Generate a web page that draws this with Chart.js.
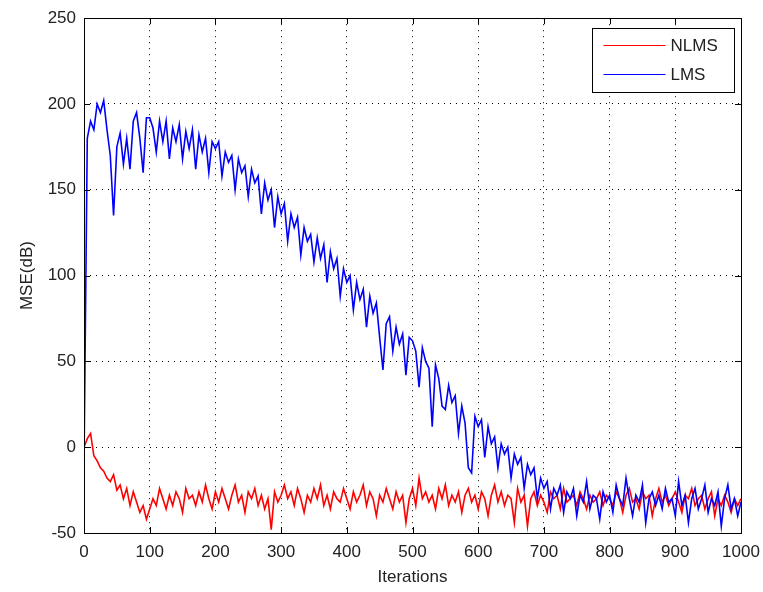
<!DOCTYPE html>
<html>
<head>
<meta charset="utf-8">
<script src="https://cdn.jsdelivr.net/npm/chart.js@4.4.1/dist/chart.umd.min.js"></script>
<style>
    body { margin: 0; background: #fff; }
    #wrap { width: 763px; height: 592px; }
</style>
</head>
<body>
<div id="wrap"><canvas id="mseChart"></canvas></div>
<script>
// iterations (every 5th sample)
const iterations = [
    0, 5, 10, 15, 20, 25, 30, 35, 40, 45,
    50, 55, 60, 65, 70, 75, 80, 85, 90, 95,
    100, 105, 110, 115, 120, 125, 130, 135, 140, 145,
    150, 155, 160, 165, 170, 175, 180, 185, 190, 195,
    200, 205, 210, 215, 220, 225, 230, 235, 240, 245,
    250, 255, 260, 265, 270, 275, 280, 285, 290, 295,
    300, 305, 310, 315, 320, 325, 330, 335, 340, 345,
    350, 355, 360, 365, 370, 375, 380, 385, 390, 395,
    400, 405, 410, 415, 420, 425, 430, 435, 440, 445,
    450, 455, 460, 465, 470, 475, 480, 485, 490, 495,
    500, 505, 510, 515, 520, 525, 530, 535, 540, 545,
    550, 555, 560, 565, 570, 575, 580, 585, 590, 595,
    600, 605, 610, 615, 620, 625, 630, 635, 640, 645,
    650, 655, 660, 665, 670, 675, 680, 685, 690, 695,
    700, 705, 710, 715, 720, 725, 730, 735, 740, 745,
    750, 755, 760, 765, 770, 775, 780, 785, 790, 795,
    800, 805, 810, 815, 820, 825, 830, 835, 840, 845,
    850, 855, 860, 865, 870, 875, 880, 885, 890, 895,
    900, 905, 910, 915, 920, 925, 930, 935, 940, 945,
    950, 955, 960, 965, 970, 975, 980, 985, 990, 995,
    1000
];

// MSE in dB, NLMS
const nlmsMse = [
    0, 5, 8, -5, -8, -12, -14, -18, -20, -16,
    -25, -22, -30, -24, -34, -26, -32, -38, -34, -42,
    -36, -30, -34, -24, -30, -36, -28, -34, -26, -30,
    -38, -24, -30, -28, -34, -26, -32, -22, -30, -36,
    -26, -32, -24, -30, -36, -28, -22, -32, -28, -38,
    -26, -30, -24, -34, -28, -36, -30, -48, -26, -32,
    -28, -22, -30, -26, -34, -24, -30, -38, -28, -32,
    -24, -30, -22, -34, -28, -36, -26, -30, -32, -24,
    -30, -36, -26, -32, -28, -22, -34, -26, -30, -40,
    -28, -32, -24, -30, -36, -26, -32, -28, -44, -30,
    -24, -34, -18, -30, -26, -32, -28, -36, -24, -30,
    -22, -34, -28, -32, -26, -38, -28, -24, -32, -28,
    -36, -26, -30, -40, -28, -22, -32, -26, -34, -28,
    -30, -44, -24, -32, -28, -46, -30, -26, -34, -28,
    -32, -38, -26, -30, -28, -36, -24, -32, -30, -28,
    -34, -26, -30, -36, -28, -32, -30, -26, -34, -28,
    -30, -34, -26, -30, -38, -28, -24, -32, -30, -36,
    -26, -30, -28, -40, -30, -24, -32, -28, -34, -30,
    -26, -32, -38, -28, -30, -24, -34, -30, -28, -36,
    -30, -26, -40, -30, -34, -28, -32, -38, -30, -34,
    -30
];

// MSE in dB, LMS
const lmsMse = [
    -10, 180, 190, 185, 200, 195, 202, 185, 170, 135,
    175, 183, 165, 180, 162, 190, 195, 180, 160, 192,
    192, 186, 172, 190, 178, 190, 168, 186, 178, 188,
    168, 184, 174, 185, 162, 182, 172, 180, 160, 178,
    174, 178, 158, 172, 166, 170, 150, 168, 160, 164,
    146, 162, 154, 158, 136, 154, 144, 150, 128, 146,
    136, 142, 120, 136, 128, 134, 112, 128, 120, 124,
    108, 122, 110, 118, 96, 114, 104, 110, 88, 104,
    96, 100, 80, 96, 86, 92, 70, 88, 78, 84,
    64, 45, 72, 76, 56, 70, 60, 66, 42, 64,
    62, 56, 35, 58, 50, 46, 12, 48, 40, 24,
    22, 36, 26, 30, 8, 24, 14, -12, -15, 18,
    12, 16, -6, 12, 2, 6, -12, 2, -4, 0,
    -18, -4, -10, -6, -24, -10, -16, -12, -30, -18,
    -24, -20, -36, -24, -28, -22, -38, -26, -30, -24,
    -40, -28, -32, -20, -36, -28, -30, -42, -26, -32,
    -28, -38, -22, -30, -34, -18, -30, -40, -28, -32,
    -22, -44, -30, -26, -34, -28, -36, -24, -32, -30,
    -40, -20, -34, -28, -44, -30, -24, -36, -30, -22,
    -38, -30, -34, -26, -46, -30, -22, -36, -30, -40,
    -32
];

const xTicks = [0, 100, 200, 300, 400, 500, 600, 700, 800, 900, 1000];
const yTicks = [-50, 0, 50, 100, 150, 200, 250];

const seriesNames = ['NLMS', 'LMS'];
const seriesColors = ['#ff0000', '#0000ff'];

const fontFamily = "'Liberation Sans', Arial, Helvetica, sans-serif";
const textColor = '#222222';

function toPoints(ys) {
    return ys.map((y, i) => ({ x: iterations[i], y: y }));
}

// matlab style box, inward ticks and legend
const matlabFrame = {
    id: 'matlabFrame',
    afterDatasetsDraw(chart) {
        const ctx = chart.ctx;
        const area = chart.chartArea;
        const xs = chart.scales.x;
        const ys = chart.scales.y;
        const len = 6;
        ctx.save();
        ctx.strokeStyle = '#000';
        ctx.lineWidth = 1;
        ctx.beginPath();
        xs.ticks.forEach(t => {
            const px = Math.round(xs.getPixelForValue(t.value)) + 0.5;
            ctx.moveTo(px, area.bottom);
            ctx.lineTo(px, area.bottom - len);
            ctx.moveTo(px, area.top);
            ctx.lineTo(px, area.top + len);
        });
        ys.ticks.forEach(t => {
            const py = Math.round(ys.getPixelForValue(t.value)) + 0.5;
            ctx.moveTo(area.left, py);
            ctx.lineTo(area.left + len, py);
            ctx.moveTo(area.right, py);
            ctx.lineTo(area.right - len, py);
        });
        ctx.stroke();
        ctx.strokeRect(Math.round(area.left) + 0.5, Math.round(area.top) + 0.5,
            Math.round(area.right - area.left), Math.round(area.bottom - area.top));
        ctx.restore();
    },
    afterDraw(chart) {
        const ctx = chart.ctx;
        const area = chart.chartArea;
        const w = 142, h = 64;
        const left = Math.round(area.right - 7 - w) + 0.5;
        const top = Math.round(area.top + 10) + 0.5;
        ctx.save();
        ctx.fillStyle = '#fff';
        ctx.fillRect(left, top, w, h);
        ctx.strokeStyle = '#000';
        ctx.lineWidth = 1;
        ctx.strokeRect(left, top, w, h);
        ctx.font = '17px ' + fontFamily;
        ctx.textBaseline = 'middle';
        ctx.fillStyle = textColor;
        chart.data.datasets.forEach((ds, i) => {
            const y = Math.round(top + 16 + i * 29) + 0.5;
            ctx.strokeStyle = ds.borderColor;
            ctx.beginPath();
            ctx.moveTo(left + 11, y);
            ctx.lineTo(left + 73, y);
            ctx.stroke();
            ctx.fillText(ds.label, left + 78, y + 1);
        });
        ctx.restore();
    }
};

const ctx = document.getElementById('mseChart').getContext('2d');
const mseChart = new Chart(ctx, {
    type: 'line',
    data: {
        datasets: [{
            label: seriesNames[0],
            data: toPoints(nlmsMse),
            borderColor: seriesColors[0],
            borderWidth: 1.6,
            pointRadius: 0,
            tension: 0,
            order: 1
        }, {
            label: seriesNames[1],
            data: toPoints(lmsMse),
            borderColor: seriesColors[1],
            borderWidth: 1.6,
            pointRadius: 0,
            tension: 0,
            order: 0
        }]
    },
    options: {
        responsive: true,
        maintainAspectRatio: false,
        animation: false,
        layout: { padding: { top: 17, right: 22, bottom: 0, left: 0 } },
        plugins: {
            legend: { display: false },
            tooltip: { enabled: false }
        },
        scales: {
            x: {
                type: 'linear',
                min: 0,
                max: 1000,
                afterBuildTicks: axis => { axis.ticks = xTicks.map(v => ({ value: v })); },
                afterFit: axis => { axis.height = 59; axis.paddingRight = 0; axis.paddingLeft = 0; },
                ticks: { color: textColor, font: { family: fontFamily, size: 17 }, padding: 9, maxRotation: 0, callback: v => String(v) },
                grid: { color: '#000', lineWidth: 1, drawTicks: false },
                border: { display: false, dash: [1, 5] },
                title: { display: true, text: 'Iterations', color: textColor, font: { family: fontFamily, size: 17 }, padding: { top: 0, bottom: 4 } }
            },
            y: {
                min: -50,
                max: 250,
                afterBuildTicks: axis => { axis.ticks = yTicks.map(v => ({ value: v })); },
                afterFit: axis => { axis.width = 84; },
                ticks: { color: textColor, font: { family: fontFamily, size: 17 }, padding: 8, callback: v => String(v) },
                grid: { color: '#000', lineWidth: 1, drawTicks: false },
                border: { display: false, dash: [1, 5] },
                title: { display: true, text: 'MSE(dB)', color: textColor, font: { family: fontFamily, size: 17 }, padding: { top: 17, bottom: 0 } }
            }
        }
    },
    plugins: [matlabFrame]
});
</script>
</body>
</html>
